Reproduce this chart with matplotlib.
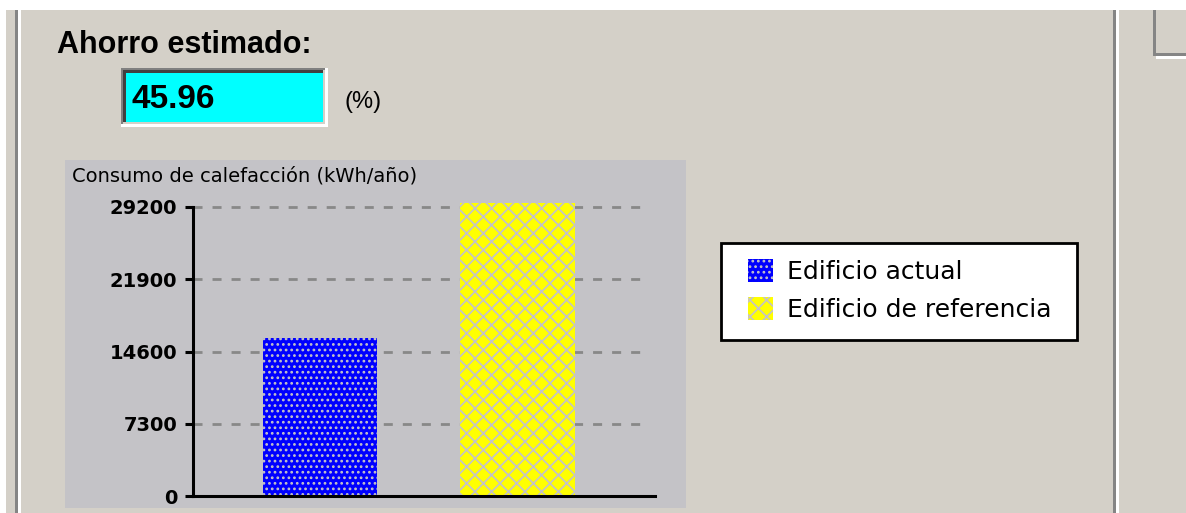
import matplotlib
matplotlib.use("Agg")
import matplotlib.pyplot as plt
from matplotlib.patches import Rectangle

W, H = 1186, 513
BG = "#d4d0c8"
PANEL = "#c4c3c7"
LINE_GRAY = "#858585"

# data
categories = ["Edificio actual", "Edificio de referencia"]
consumo = [16000, 29600]
bar_colors = ["#0000ff", "#ffff00"]
bar_hatches = ["...", "xx"]
ytick_values = [0, 7300, 14600, 21900, 29200]
ahorro = 45.96

plt.rcParams["lines.scale_dashes"] = False
plt.rcParams["hatch.linewidth"] = 1.2

fig = plt.figure(figsize=(W / 100, H / 100), dpi=100)
fig.patch.set_facecolor(BG)


def px_rect(x0, y0, x1, y1, color, z=0, edge="none", lw=0):
  # rectangle in screen pixels, y measured from the top
  r = Rectangle((x0 / W, 1 - y1 / H), (x1 - x0) / W, (y1 - y0) / H,
                transform=fig.transFigure, facecolor=color, edgecolor=edge,
                linewidth=lw, zorder=z)
  fig.add_artist(r)


# window chrome
px_rect(0, 0, W, 10, "white")
px_rect(0, 0, 6, H, "white")
px_rect(15, 10, 18, H, LINE_GRAY)
px_rect(18, 10, 21, H, "white")
px_rect(1113, 10, 1116, H, LINE_GRAY)
px_rect(1116, 10, 1119, H, "white")
px_rect(1153, 10, 1156, 56, LINE_GRAY)
px_rect(1153, 53, W, 56, LINE_GRAY)
px_rect(1156, 56, W, 59, "white")

# chart panel
px_rect(65, 160, 686, 508, PANEL)

# legend box
px_rect(721, 243, 1077, 340, "white", edge="black", lw=2)

# sunken text box with the saving value
px_rect(121, 68, 328, 127, "white")
px_rect(121, 68, 325, 124, "#808080")
px_rect(123, 70, 325, 124, "#404040")
px_rect(123, 122, 325, 124, BG)
px_rect(323, 70, 325, 124, BG)
px_rect(126, 73, 323, 122, "#00ffff")

fig.text(57 / W, 1 - 53 / H, "Ahorro estimado:", family="Liberation Sans",
         weight="bold", fontsize=22, va="baseline", ha="left")
fig.text(131 / W, 1 - 108 / H, "{:.2f}".format(ahorro), family="Liberation Sans",
         weight="bold", fontsize=24, va="baseline", ha="left")
fig.text(344 / W, 1 - 108 / H, "(%)", family="Liberation Sans",
         fontsize=17, va="baseline", ha="left")
fig.text(72 / W, 1 - 182 / H, "Consumo de calefacción (kWh/año)",
         family="DejaVu Sans", fontsize=14, va="baseline", ha="left")

# axes
ax_left, ax_right = 193, 655
ax_bottom, ax_top = 496, 200
ax = fig.add_axes([ax_left / W, 1 - ax_bottom / H,
                   (ax_right - ax_left) / W, (ax_bottom - ax_top) / H])
ax.set_facecolor("none")

top_val = ytick_values[-1] * (ax_bottom - ax_top) / (ax_bottom - 207)
ax.set_ylim(0, top_val)
ax.set_xlim(-0.643, 1.696)

for y in ytick_values[1:]:
  ax.axhline(y, xmin=0, xmax=(649 - ax_left) / (ax_right - ax_left),
             color="#888888", lw=2, dashes=(6.5, 7.2), zorder=1)

bars = ax.bar(range(len(categories)), consumo, width=0.58, color=bar_colors,
              edgecolor=PANEL, linewidth=0, zorder=2)
for b, h, lab in zip(bars, bar_hatches, categories):
  b.set_hatch(h)
  b.set_label(lab)

for s in ["top", "right"]:
  ax.spines[s].set_visible(False)
ax.spines["left"].set_bounds(0, ytick_values[-1])
ax.spines["left"].set_linewidth(2.2)
ax.spines["bottom"].set_linewidth(2.2)
ax.set_xticks([])
ax.set_yticks(ytick_values)
ax.set_yticklabels([str(v) for v in ytick_values], family="DejaVu Sans",
                   weight="bold", fontsize=14)
ax.tick_params(axis="y", length=5.8, width=2.2, pad=5.5)

leg = fig.legend(handles=list(bars), labels=categories,
                 loc="upper left", bbox_to_anchor=(748 / W, 1 - 259 / H),
                 prop={"family": "DejaVu Sans", "size": 18},
                 handlelength=1.0, handleheight=1.05, handletextpad=0.56,
                 borderpad=0, labelspacing=0.52, borderaxespad=0,
                 frameon=False)

fig.savefig("out.png", dpi=100, facecolor=fig.get_facecolor())
